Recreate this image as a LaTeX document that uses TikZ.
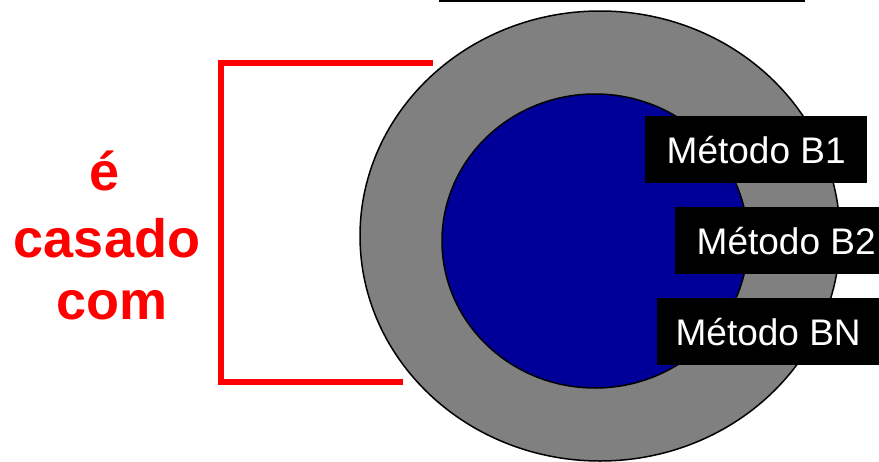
\documentclass[tikz,border=0pt]{standalone}
\usepackage{fontspec}
\newfontfamily\lsans{Liberation Sans}
\definecolor{ringgray}{RGB}{128,128,128}
\definecolor{coreblue}{RGB}{0,0,153}
\begin{document}
\begin{tikzpicture}[x=1pt,y=-1pt,
  redtxt/.style={text=red,font=\lsans\bfseries\fontsize{54}{63}\selectfont,anchor=base,inner sep=0pt},
  methbox/.style={fill=black,text=white,font=\lsans\fontsize{37}{44}\selectfont,minimum width=222pt,minimum height=67pt,inner sep=0pt,anchor=north west},
  bracket/.style={red,line width=6pt}]
\useasboundingbox (0,0) rectangle (879,461);
\begin{scope}
\clip (0,0) rectangle (879,461);
\draw[line width=2pt] (439,1) -- (805,1);
\fill[ringgray,draw=black,line width=1.5pt] (600,236) ellipse [x radius=240, y radius=225];
\fill[coreblue,draw=black,line width=1.5pt] (595,241) ellipse [x radius=153, y radius=147];
\node[methbox] (b1) at (645,116) {Método B1};
\node[methbox] (b2) at (675,207) {Método B2};
\node[methbox] (bn) at (657,298) {Método BN};
\end{scope}
\coordinate (bt) at (433,63);
\coordinate (bb) at (403,382);
\draw[bracket] (bt) -- (221,63) -- (221,382) -- (bb);
\node[redtxt] (e) at (105,190) {é};
\node[redtxt] (casado) at (107,257) {casado};
\node[redtxt] (com) at (112,319) {com};
\end{tikzpicture}
\end{document}
